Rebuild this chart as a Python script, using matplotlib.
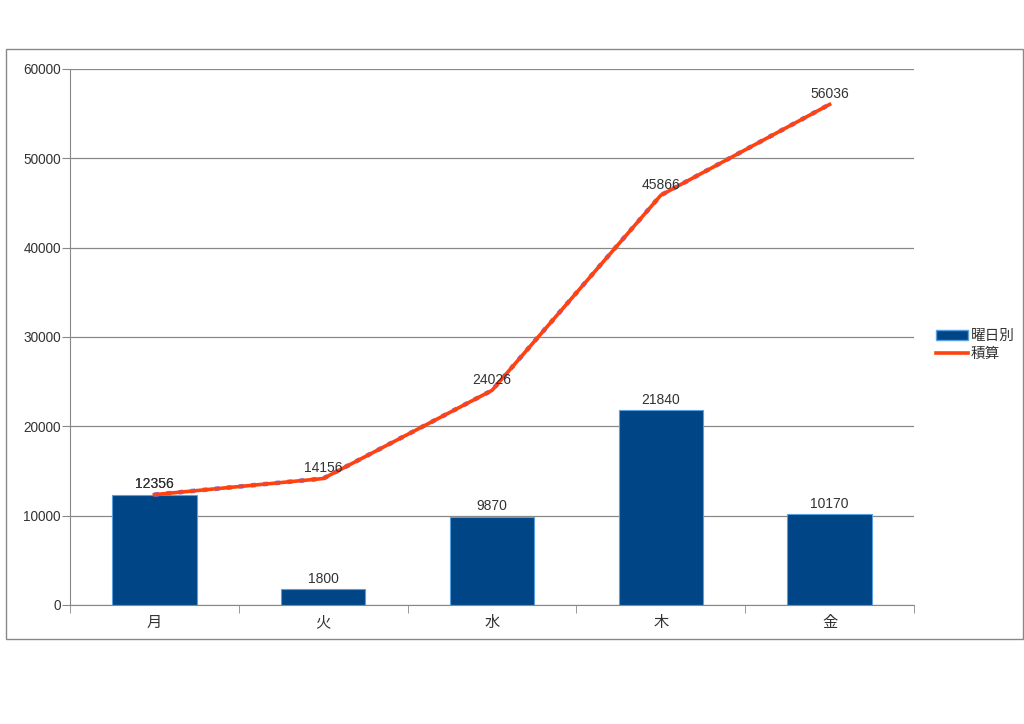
import matplotlib.pyplot as plt
from matplotlib.patches import Rectangle, Patch
from matplotlib.lines import Line2D

plt.rcParams['font.family'] = ['Liberation Sans', 'Noto Sans CJK JP', 'DejaVu Sans']

# データ
days = ['月', '火', '水', '木', '金']
daily = [12356, 1800, 9870, 21840, 10170]
cumulative = [12356, 14156, 24026, 45866, 56036]
yticks = [0, 10000, 20000, 30000, 40000, 50000, 60000]

bar_color = '#004586'
line_color = '#ff420e'

fig = plt.figure(figsize=(10.24, 7.24), dpi=100)
# 外枠
fig.patches.append(Rectangle((6 / 1024, 1 - 639 / 724), 1017 / 1024, 590 / 724,
                             transform=fig.transFigure, fill=False,
                             edgecolor='#888888', linewidth=1))

ax = fig.add_axes([70 / 1024, 1 - 605 / 724, 844 / 1024, 536 / 724])
x = list(range(len(days)))

ax.bar(x, daily, width=0.5, color=bar_color, edgecolor='#5aa0e0', linewidth=0.8, zorder=2)
ax.plot(x, cumulative, color='#7070ff', linewidth=3.3, linestyle=':', zorder=3)
ax.plot(x, cumulative, color=line_color, linewidth=2.6, zorder=4)

for xi, v in zip(x, daily):
    ax.text(xi, v + 380, str(v), ha='center', va='bottom', fontsize=10, color='#333333', zorder=5)
for xi, v in zip(x, cumulative):
    ax.text(xi, v + 380, str(v), ha='center', va='bottom', fontsize=10, color='#333333', zorder=5)

ax.set_xlim(-0.5, 4.5)
ax.set_ylim(0, 60000)
ax.set_yticks(yticks)
ax.set_yticklabels([str(t) for t in yticks], fontsize=9.8, color='#333333')
ax.set_xticks(x)
ax.set_xticklabels(days, fontsize=11, color='#333333')
ax.tick_params(axis='x', length=0, pad=8)
ax.set_xticks([i + 0.5 for i in range(-1, 5)], minor=True)
ax.tick_params(axis='x', which='minor', length=6, color='#888888', direction='out')
ax.tick_params(axis='y', length=6, color='#888888', direction='out', pad=0.5)

ax.grid(axis='y', color='#888888', linewidth=0.9, zorder=0)
ax.set_axisbelow(True)
for s in ['top', 'right']:
    ax.spines[s].set_visible(False)
ax.spines['left'].set_color('#888888')
ax.spines['bottom'].set_color('#888888')

handles = [Patch(facecolor=bar_color, edgecolor='#5aa0e0', label='曜日別'),
           Line2D([0], [0], color=line_color, linewidth=2.6, label='積算')]
fig.legend(handles=handles, loc='center left', bbox_to_anchor=(936 / 1024, 1 - 345 / 724),
           frameon=False, fontsize=10.5, handlelength=2.2, handleheight=0.6,
           handletextpad=0.2, labelspacing=0.25, borderaxespad=0, borderpad=0,
           labelcolor='#333333')

fig.savefig('out.png', dpi=100)
